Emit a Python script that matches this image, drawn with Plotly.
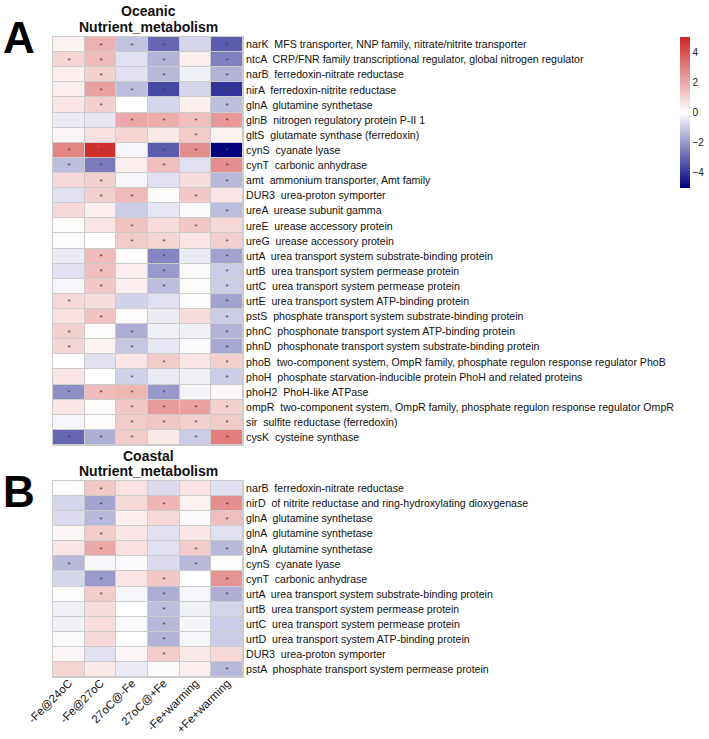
import plotly.graph_objects as go

conditions = ["-Fe@24oC", "-Fe@27oC", "27oC@-Fe", "27oC@+Fe", "-Fe+warming", "+Fe+warming"]

oceanic_genes = [
    "narK  MFS transporter, NNP family, nitrate/nitrite transporter",
    "ntcA  CRP/FNR family transcriptional regulator, global nitrogen regulator",
    "narB  ferredoxin-nitrate reductase",
    "nirA  ferredoxin-nitrite reductase",
    "glnA  glutamine synthetase",
    "glnB  nitrogen regulatory protein P-II 1",
    "gltS  glutamate synthase (ferredoxin)",
    "cynS  cyanate lyase",
    "cynT  carbonic anhydrase",
    "amt  ammonium transporter, Amt family",
    "DUR3  urea-proton symporter",
    "ureA  urease subunit gamma",
    "ureE  urease accessory protein",
    "ureG  urease accessory protein",
    "urtA  urea transport system substrate-binding protein",
    "urtB  urea transport system permease protein",
    "urtC  urea transport system permease protein",
    "urtE  urea transport system ATP-binding protein",
    "pstS  phosphate transport system substrate-binding protein",
    "phnC  phosphonate transport system ATP-binding protein",
    "phnD  phosphonate transport system substrate-binding protein",
    "phoB  two-component system, OmpR family, phosphate regulon response regulator PhoB",
    "phoH  phosphate starvation-inducible protein PhoH and related proteins",
    "phoH2  PhoH-like ATPase",
    "ompR  two-component system, OmpR family, phosphate regulon response regulator OmpR",
    "sir  sulfite reductase (ferredoxin)",
    "cysK  cysteine synthase",
]

oceanic_values = [
    [0.3, 1.8, -1.2, -3.0, -0.8, -3.2],
    [1.0, 1.6, -0.6, -1.5, 0.4, -2.5],
    [0.4, 1.1, -0.6, -1.4, -0.3, -1.5],
    [0.4, 2.2, -1.3, -3.6, -0.8, -4.0],
    [0.6, 1.1, 0.0, -0.8, 0.4, -1.3],
    [-0.4, -0.5, 2.0, 1.9, 1.5, 2.4],
    [0.2, 0.7, 1.0, 0.5, 1.2, 0.3],
    [2.8, 4.8, -0.2, -3.2, 2.6, -5.0],
    [-1.3, -2.6, 0.4, 1.5, -0.6, 2.6],
    [0.9, 1.1, -0.2, -0.6, 0.8, -1.4],
    [-0.6, 1.1, 1.6, 0.1, 1.3, 0.6],
    [0.9, 0.4, -1.0, -0.5, -0.1, -1.3],
    [0.1, 0.6, 1.4, 0.8, 1.3, 0.9],
    [0.1, 0.0, 1.2, 1.0, 0.6, 1.1],
    [-0.4, 1.6, 0.1, -2.4, -0.4, -1.8],
    [-0.6, 1.5, 0.4, -2.0, -0.1, -1.0],
    [-0.2, 1.3, 0.4, -1.3, 0.1, -1.0],
    [0.9, 0.8, -0.9, -0.6, 0.1, -1.8],
    [0.7, 1.4, 0.1, -0.4, 0.8, -1.0],
    [1.1, 0.1, -1.6, -0.3, -0.3, -1.5],
    [1.0, 0.3, -1.1, -0.5, -0.1, -1.7],
    [0.0, -0.6, 0.6, 1.2, 0.6, 1.1],
    [0.6, 0.0, -0.9, -0.4, -0.3, -1.0],
    [-2.2, 1.6, 1.7, -2.0, -0.2, 0.2],
    [0.6, 0.1, 1.3, 2.3, 2.2, 1.1],
    [-0.2, 0.1, 1.2, 1.3, 1.1, 1.2],
    [-3.0, -1.6, 1.2, 0.5, -1.0, 3.0],
]

oceanic_signif = [
    [0, 1, 1, 1, 0, 1],
    [1, 1, 0, 1, 0, 1],
    [0, 1, 0, 1, 0, 1],
    [0, 1, 1, 1, 0, 1],
    [0, 1, 0, 0, 0, 1],
    [0, 0, 1, 1, 1, 1],
    [0, 0, 0, 0, 1, 0],
    [1, 1, 0, 1, 1, 1],
    [1, 1, 0, 1, 0, 1],
    [0, 1, 0, 0, 0, 1],
    [0, 1, 1, 0, 1, 0],
    [0, 0, 0, 0, 0, 1],
    [0, 0, 1, 0, 1, 0],
    [0, 0, 1, 1, 0, 1],
    [0, 1, 0, 1, 0, 1],
    [0, 1, 0, 1, 0, 1],
    [0, 1, 0, 1, 0, 1],
    [1, 0, 0, 0, 0, 1],
    [0, 1, 0, 0, 0, 1],
    [1, 0, 1, 0, 0, 1],
    [1, 0, 1, 0, 0, 1],
    [0, 0, 0, 1, 0, 1],
    [0, 0, 1, 0, 0, 1],
    [1, 1, 1, 1, 0, 0],
    [0, 0, 1, 1, 1, 1],
    [0, 0, 1, 1, 1, 1],
    [1, 1, 1, 0, 1, 1],
]

coastal_genes = [
    "narB  ferredoxin-nitrate reductase",
    "nirD  of nitrite reductase and ring-hydroxylating dioxygenase",
    "glnA  glutamine synthetase",
    "glnA  glutamine synthetase",
    "glnA  glutamine synthetase",
    "cynS  cyanate lyase",
    "cynT  carbonic anhydrase",
    "urtA  urea transport system substrate-binding protein",
    "urtB  urea transport system permease protein",
    "urtC  urea transport system permease protein",
    "urtD  urea transport system ATP-binding protein",
    "DUR3  urea-proton symporter",
    "pstA  phosphate transport system permease protein",
]

coastal_values = [
    [0.1, 1.3, 0.7, -0.7, 0.7, -0.6],
    [-0.8, -1.8, 0.9, 1.7, 0.3, 2.6],
    [-0.7, -1.4, 0.4, 0.9, -0.1, 1.5],
    [0.2, 1.2, 0.6, -0.6, 0.6, -0.6],
    [0.6, 2.0, 0.7, -0.6, 1.2, -1.4],
    [-1.4, -0.2, -0.1, -0.7, -1.4, 0.1],
    [-0.8, -2.0, 0.6, 1.3, 0.0, 2.5],
    [0.1, 1.2, -0.2, -1.6, -0.2, -1.6],
    [-0.3, 0.8, 0.0, -1.3, -0.3, -0.8],
    [-0.3, 0.8, -0.1, -1.4, -0.2, -1.0],
    [-0.1, 0.9, 0.0, -1.5, -0.2, -1.0],
    [0.2, -0.6, 0.2, 1.2, 0.5, 0.9],
    [1.0, 0.5, -0.4, -0.1, 0.4, -1.4],
]

coastal_signif = [
    [0, 1, 0, 0, 0, 0],
    [0, 1, 0, 1, 0, 1],
    [0, 1, 0, 0, 0, 1],
    [0, 1, 0, 0, 0, 0],
    [0, 1, 0, 0, 1, 1],
    [1, 0, 0, 0, 1, 0],
    [0, 1, 0, 1, 0, 1],
    [0, 1, 0, 1, 0, 1],
    [0, 0, 0, 1, 0, 0],
    [0, 0, 0, 1, 0, 0],
    [0, 0, 0, 1, 0, 0],
    [0, 0, 0, 1, 0, 0],
    [0, 0, 0, 0, 0, 1],
]

colorbar_ticks = [4, 2, 0, -2, -4]

W, H = 709, 739
FONT = "Liberation Sans, Arial, sans-serif"


def label(s):
    return s.replace("  ", " \u00a0")


def stars(sig):
    return [["*" if v else "" for v in row] for row in sig]


fig = go.Figure()

fig.add_trace(go.Heatmap(
    z=oceanic_values, x=list(range(len(conditions))), y=list(range(len(oceanic_genes))),
    coloraxis="coloraxis", xgap=1, ygap=1,
    text=stars(oceanic_signif), texttemplate="%{text}",
    textfont=dict(size=8, color="#444444", family=FONT),
    xaxis="x", yaxis="y", hoverinfo="z",
))
fig.add_trace(go.Heatmap(
    z=coastal_values, x=list(range(len(conditions))), y=list(range(len(coastal_genes))),
    coloraxis="coloraxis", xgap=1, ygap=1,
    text=stars(coastal_signif), texttemplate="%{text}",
    textfont=dict(size=8, color="#444444", family=FONT),
    xaxis="x2", yaxis="y2", hoverinfo="z",
))

xdom = [53 / W, 243 / W]
ydom_top = [1 - 445 / H, 1 - 37 / H]
ydom_bot = [1 - 677 / H, 1 - 481 / H]
line_col = "#cccccc"

fig.update_layout(
    width=W, height=H,
    margin=dict(l=0, r=0, t=0, b=0, autoexpand=False),
    paper_bgcolor="white", plot_bgcolor=line_col,
    font=dict(family=FONT, color="black"),
    coloraxis=dict(
        cmin=-5, cmax=5,
        colorscale=[[0, "#000080"], [0.5, "#ffffff"], [1, "#cd2626"]],
        colorbar=dict(
            x=680 / W, xanchor="left", xpad=0, ypad=0, y=1 - 37 / H, yanchor="top",
            len=151 / H, lenmode="fraction", thickness=10,
            outlinewidth=0, tickvals=colorbar_ticks, ticks="",
            tickfont=dict(size=10, family=FONT, color="#222222"),
        ),
    ),
    xaxis=dict(domain=xdom, anchor="y", showticklabels=False, ticks="",
               showgrid=False, zeroline=False, range=[-0.5, 5.5], automargin=False,
               showline=True, mirror=True, linecolor=line_col, linewidth=1),
    yaxis=dict(domain=ydom_top, anchor="x", side="right", automargin=False,
               tickvals=list(range(len(oceanic_genes))),
               ticktext=[label(g) for g in oceanic_genes],
               range=[len(oceanic_genes) - 0.5, -0.5], ticks="",
               tickfont=dict(size=10.6, family=FONT, color="#111111"),
               showgrid=False, zeroline=False,
               showline=True, mirror=True, linecolor=line_col, linewidth=1),
    xaxis2=dict(domain=xdom, anchor="y2", tickvals=list(range(len(conditions))),
                ticktext=conditions, tickangle=-45, ticks="", automargin=False,
                ticklabelstandoff=-6,
                tickfont=dict(size=11.5, family=FONT, color="#111111"),
                showgrid=False, zeroline=False, range=[-0.5, 5.5],
                showline=True, mirror=True, linecolor=line_col, linewidth=1),
    yaxis2=dict(domain=ydom_bot, anchor="x2", side="right", automargin=False,
                tickvals=list(range(len(coastal_genes))),
                ticktext=[label(g) for g in coastal_genes],
                range=[len(coastal_genes) - 0.5, -0.5], ticks="",
                tickfont=dict(size=10.6, family=FONT, color="#111111"),
                showgrid=False, zeroline=False,
                showline=True, mirror=True, linecolor=line_col, linewidth=1),
)

cx = (53 + 243) / 2 / W
anns = [
    ("Oceanic", cx, 11, 14),
    ("Nutrient_metabolism", cx, 27, 14),
    ("Coastal", cx, 456, 14),
    ("Nutrient_metabolism", cx, 471, 14),
]
for txt, x, ypx, sz in anns:
    fig.add_annotation(text="<b>%s</b>" % txt, x=x, y=1 - ypx / H, xref="paper", yref="paper",
                       showarrow=False, xanchor="center", yanchor="middle",
                       font=dict(size=sz, family=FONT, color="#111111"))

for txt, ypx in [("A", 37), ("B", 491)]:
    fig.add_annotation(text="<b>%s</b>" % txt, x=19 / W, y=1 - ypx / H, xref="paper", yref="paper",
                       showarrow=False, xanchor="center", yanchor="middle",
                       font=dict(size=44, family=FONT, color="black"))

fig.write_html("out.html")
